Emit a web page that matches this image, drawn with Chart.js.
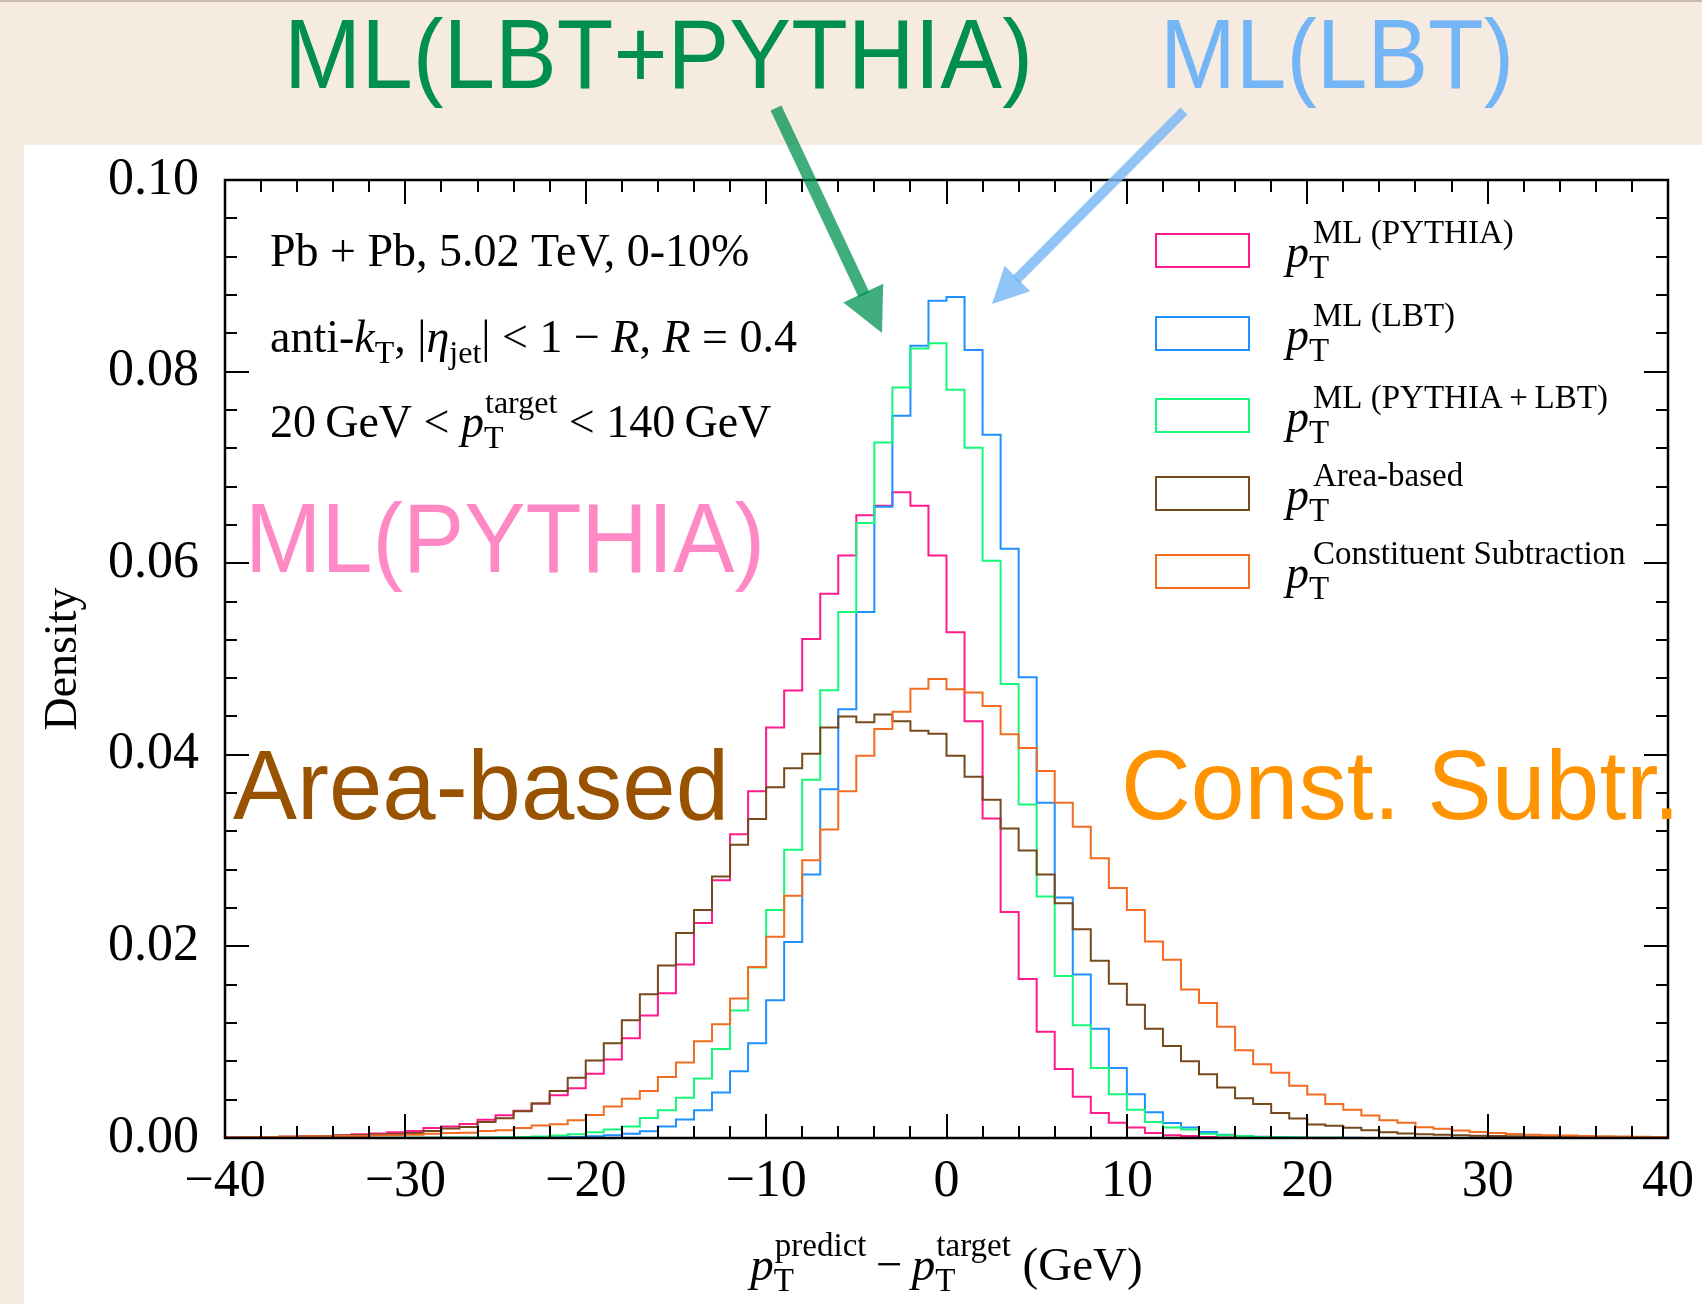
<!DOCTYPE html>
<html>
<head>
<meta charset="utf-8">
<title>Jet pT residual density</title>
<script src="https://cdn.jsdelivr.net/npm/chart.js@4.4.1/dist/chart.umd.min.js"></script>
<style>
  html, body { margin: 0; padding: 0; background: #f6ebe0; }
  #plot { display: block; }
</style>
</head>
<body>
<canvas id="plot" width="1702" height="1304"></canvas>
<script>
// --- data: 1 GeV bins from -40 to 40, density per bin ---
const binEdges = [
  -40, -39, -38, -37, -36, -35, -34, -33, -32, -31,
  -30, -29, -28, -27, -26, -25, -24, -23, -22, -21,
  -20, -19, -18, -17, -16, -15, -14, -13, -12, -11,
  -10, -9, -8, -7, -6, -5, -4, -3, -2, -1,
  0, 1, 2, 3, 4, 5, 6, 7, 8, 9,
  10, 11, 12, 13, 14, 15, 16, 17, 18, 19,
  20, 21, 22, 23, 24, 25, 26, 27, 28, 29,
  30, 31, 32, 33, 34, 35, 36, 37, 38, 39, 40
];

const mlPythia = [
  0.00005, 0.00007, 0.0001, 0.00013, 0.00017, 0.00022, 0.0003, 0.00038, 0.00048, 0.0006,
  0.00074, 0.00105, 0.0012, 0.00145, 0.0019, 0.00237, 0.00285, 0.0036, 0.00446, 0.0052,
  0.0067, 0.0082, 0.0104, 0.0128, 0.0151, 0.0181, 0.02245, 0.0269, 0.0317, 0.0362,
  0.04285, 0.0467, 0.0521, 0.0568, 0.0608, 0.065, 0.066, 0.0674, 0.066, 0.0608,
  0.0528, 0.0435, 0.03335, 0.0236, 0.0166, 0.0111, 0.0072, 0.0043, 0.0026, 0.0016,
  0.0011, 0.00052, 0.00028, 0.0002, 0.0001, 0.00006, 0.00004, 0.00003, 0.00002, 0.00001,
  0.00001, 0.00001, 0, 0, 0, 0, 0, 0, 0, 0,
  0, 0, 0, 0, 0, 0, 0, 0, 0, 0
];

const mlLbt = [
  0, 0, 0, 0, 0, 0, 0.00001, 0.00001, 0.00001, 0.00002,
  0.00002, 0.00002, 0.00003, 0.00003, 0.00004, 0.00005, 0.00006, 0.00007, 0.00008, 0.0001,
  0.00017, 0.00028, 0.00045, 0.0007, 0.0012, 0.00192, 0.0029, 0.00474, 0.00696, 0.0099,
  0.01438, 0.02047, 0.0275, 0.0364, 0.04476, 0.0549, 0.0659, 0.0754, 0.0827, 0.0874,
  0.0878, 0.08225, 0.0734, 0.0615, 0.0481, 0.035, 0.0251, 0.01706, 0.0114, 0.0073,
  0.00456, 0.0027, 0.00157, 0.0011, 0.00063, 0.00035, 0.0002, 0.00012, 0.00008, 0.00005,
  0.00003, 0.00002, 0.00002, 0.00001, 0.00001, 0, 0, 0, 0, 0,
  0, 0, 0, 0, 0, 0, 0, 0, 0, 0
];

const mlPythiaLbt = [
  0, 0, 0, 0, 0, 0.00001, 0.00001, 0.00001, 0.00002, 0.00002,
  0.00003, 0.00003, 0.00004, 0.00005, 0.00006, 0.00008, 0.0001, 0.00015, 0.00025, 0.0004,
  0.0006, 0.0009, 0.0012, 0.0021, 0.0029, 0.0042, 0.0062, 0.0093, 0.0133, 0.0178,
  0.0238, 0.0301, 0.0374, 0.04675, 0.0549, 0.0642, 0.0726, 0.07835, 0.0824, 0.08295,
  0.0781, 0.07205, 0.06025, 0.0474, 0.0348, 0.0252, 0.0169, 0.01177, 0.0073, 0.00456,
  0.00296, 0.00167, 0.0011, 0.0009, 0.00045, 0.00028, 0.0002, 0.0001, 0.00007, 0.00005,
  0.00003, 0.00002, 0.00001, 0.00001, 0, 0, 0, 0, 0, 0,
  0, 0, 0, 0, 0, 0, 0, 0, 0, 0
];

const areaBased = [
  0.00005, 0.00007, 0.00009, 0.00012, 0.00015, 0.0002, 0.00025, 0.0003, 0.00036, 0.00042,
  0.00052, 0.00073, 0.001, 0.00115, 0.00167, 0.00205, 0.0028, 0.0036, 0.0049, 0.0063,
  0.0081, 0.0099, 0.0123, 0.015, 0.018, 0.0214, 0.0238, 0.0273, 0.0306, 0.0333,
  0.0366, 0.0386, 0.0401, 0.04285, 0.044, 0.0434, 0.0442, 0.0435, 0.0425, 0.0422,
  0.0399, 0.0377, 0.0353, 0.0323, 0.03, 0.0275, 0.0245, 0.0218, 0.0185, 0.0161,
  0.0139, 0.0114, 0.0096, 0.008, 0.00665, 0.00526, 0.00415, 0.00355, 0.0026, 0.00203,
  0.00142, 0.00127, 0.00107, 0.0008, 0.0006, 0.00048, 0.00039, 0.00033, 0.00028, 0.00024,
  0.0002, 0.00018, 0.00015, 0.00013, 0.00011, 0.00009, 0.00007, 0.00006, 0.00005, 0.00004
];

const constSub = [
  0.00006, 0.00008, 0.0001, 0.00012, 0.00015, 0.00017, 0.0002, 0.00022, 0.00025, 0.0003,
  0.00035, 0.00045, 0.00052, 0.00055, 0.00073, 0.0008, 0.00105, 0.0013, 0.00143, 0.00185,
  0.0024, 0.0033, 0.0041, 0.0049, 0.00637, 0.00787, 0.0101, 0.01187, 0.01455, 0.01786,
  0.021, 0.0253, 0.029, 0.0322, 0.0362, 0.0399, 0.0427, 0.0445, 0.0469, 0.0479,
  0.04685, 0.0465, 0.0451, 0.04215, 0.0407, 0.0383, 0.035, 0.0325, 0.0292, 0.0261,
  0.0238, 0.0205, 0.0186, 0.0155, 0.0141, 0.0116, 0.00916, 0.0077, 0.0068, 0.00545,
  0.00455, 0.00355, 0.00296, 0.00235, 0.00185, 0.00158, 0.00112, 0.00097, 0.00077, 0.00062,
  0.00052, 0.00042, 0.00035, 0.00028, 0.00025, 0.0002, 0.00018, 0.00015, 0.00012, 0.0001
];

const seriesLabels = ['ML (PYTHIA)', 'ML (LBT)', 'ML (PYTHIA\u2009+\u2009LBT)', 'Area-based', 'Constituent Subtraction'];
const xTicks = [-40, -30, -20, -10, 0, 10, 20, 30, 40];
const yTicks = [0, 0.02, 0.04, 0.06, 0.08, 0.10];

// --- styling ---
const seriesColors = ['#ff1a8c', '#1e90ff', '#17f77a', '#774a1e', '#f26c22'];
const SERIF = '"Liberation Serif", "Times New Roman", serif';
const SANS = '"Liberation Sans", Arial, sans-serif';
const W = 1702, H = 1304;

// step outline for a histogram: rise at the first edge, drop at the last
function histPoints(values) {
  const pts = [{ x: binEdges[0], y: 0 }];
  values.forEach((v, i) => pts.push({ x: binEdges[i], y: v }));
  pts.push({ x: binEdges[binEdges.length - 1], y: 0 });
  return pts;
}

// draws text with italic runs and stacked sub/superscripts, returns end x
function richText(ctx, parts, x, y, size, draw, small) {
  small = small || Math.round(size * 0.7);
  for (let p of parts) {
    if (typeof p === 'string') p = { t: p };
    if (p.t !== undefined) {
      ctx.font = (p.i ? 'italic ' : '') + size + 'px ' + SERIF;
      if (draw) ctx.fillText(p.t, x, y);
      x += ctx.measureText(p.t).width;
    } else {
      ctx.font = small + 'px ' + SERIF;
      let w = 0;
      if (p.sub) {
        if (draw) ctx.fillText(p.sub, x, y + size * 0.24);
        w = ctx.measureText(p.sub).width;
      }
      if (p.sup) {
        const dx = p.dx || 1;
        if (draw) ctx.fillText(p.sup, x + dx, y - size * 0.52);
        w = Math.max(w, ctx.measureText(p.sup).width + dx);
      }
      x += w;
    }
  }
  return x;
}

function arrow(ctx, x0, y0, x1, y1, color, width, headLen, headHalf) {
  const len = Math.hypot(x1 - x0, y1 - y0);
  const ux = (x1 - x0) / len, uy = (y1 - y0) / len;
  const bx = x1 - ux * headLen, by = y1 - uy * headLen;
  ctx.save();
  ctx.strokeStyle = color;
  ctx.fillStyle = color;
  ctx.lineWidth = width;
  ctx.beginPath();
  ctx.moveTo(x0, y0);
  ctx.lineTo(bx + ux * 2, by + uy * 2);
  ctx.stroke();
  ctx.beginPath();
  ctx.moveTo(x1, y1);
  ctx.lineTo(bx - uy * headHalf, by + ux * headHalf);
  ctx.lineTo(bx + uy * headHalf, by - ux * headHalf);
  ctx.closePath();
  ctx.fill();
  ctx.restore();
}

const infoLines = [
  ['Pb + Pb, 5.02 TeV, 0-10%'],
  ['anti-', { t: 'k', i: true }, { sub: 'T' }, ', |', { t: '\u03b7', i: true }, { sub: 'jet' },
   '| < 1 \u2212 ', { t: 'R', i: true }, ', ', { t: 'R', i: true }, ' = 0.4'],
  ['20\u2009GeV < ', { t: 'p', i: true }, { sub: 'T', sup: 'target' }, ' < 140\u2009GeV']
];

const xTitle = [{ t: 'p', i: true }, { sub: 'T', sup: 'predict' }, '\u2009\u2212\u2009',
                { t: 'p', i: true }, { sub: 'T', sup: 'target' }, ' (GeV)'];

const legendTops = [234, 317, 399, 477, 555];

// big slide labels
const notes = [
  { text: 'ML(LBT+PYTHIA)', x: 284, y: 88, w: 749, color: '#008f4f' },
  { text: 'ML(LBT)', x: 1160, y: 88, w: 354, color: '#74b5f5' },
  { text: 'ML(PYTHIA)', x: 245, y: 572, w: 520, color: '#ff89c4' },
  { text: 'Area-based', x: 233, y: 819, w: 496, color: '#985200' },
  { text: 'Const. Subtr.', x: 1121, y: 819, w: 559, color: '#ff9400' }
];

const decorPlugin = {
  id: 'decor',
  beforeDraw(chart) {
    const ctx = chart.ctx;
    ctx.save();
    ctx.fillStyle = '#f6ebe0';
    ctx.fillRect(0, 0, W, H);
    ctx.fillStyle = '#cbbcad';
    ctx.fillRect(0, 0, W, 2);
    ctx.fillStyle = '#ffffff';
    ctx.fillRect(24, 145, W - 24, H - 145);
    ctx.restore();
  },
  afterDatasetsDraw(chart) {
    const ctx = chart.ctx;
    const { left, right, top, bottom } = chart.chartArea;
    const xs = chart.scales.x, ys = chart.scales.y;
    ctx.save();
    ctx.strokeStyle = '#000';
    ctx.lineWidth = 2;
    ctx.beginPath();
    // inward ticks, minor every 2 GeV, major every 10 GeV
    for (let v = -40; v <= 40; v += 2) {
      const px = Math.round(xs.getPixelForValue(v));
      const len = v % 10 === 0 ? 24 : 12;
      ctx.moveTo(px, bottom); ctx.lineTo(px, bottom - len);
      ctx.moveTo(px, top); ctx.lineTo(px, top + len);
    }
    // minor every 0.004, major every 0.02
    for (let k = 0; k <= 25; k++) {
      const py = Math.round(ys.getPixelForValue(k * 0.004));
      const len = k % 5 === 0 ? 24 : 12;
      ctx.moveTo(left, py); ctx.lineTo(left + len, py);
      ctx.moveTo(right, py); ctx.lineTo(right - len, py);
    }
    ctx.stroke();
    ctx.lineWidth = 2.5;
    ctx.strokeRect(left, top, right - left, bottom - top);
    ctx.restore();
  },
  afterDraw(chart) {
    const ctx = chart.ctx;
    const { left, right, top, bottom } = chart.chartArea;
    ctx.save();
    ctx.textBaseline = 'alphabetic';
    ctx.textAlign = 'left';
    ctx.fillStyle = '#000';

    // run info
    const baselines = [266, 352, 437];
    infoLines.forEach((line, i) => richText(ctx, line, 270, baselines[i], 46, true));

    // legend: open boxes with the series colours
    chart.data.datasets.forEach((ds, i) => {
      const y0 = legendTops[i];
      ctx.strokeStyle = ds.borderColor;
      ctx.lineWidth = 2;
      ctx.strokeRect(1156, y0, 93, 33);
      ctx.fillStyle = '#000';
      richText(ctx, [{ t: 'p', i: true }, { sub: 'T', sup: seriesLabels[i], dx: 4 }], 1286, y0 + 33, 46, true, 33);
    });

    // axis titles
    const tw = richText(ctx, xTitle, 0, 0, 47, false, 33);
    richText(ctx, xTitle, (left + right) / 2 - tw / 2, 1280, 47, true, 33);
    ctx.save();
    ctx.translate(76, (top + bottom) / 2);
    ctx.rotate(-Math.PI / 2);
    ctx.textAlign = 'center';
    ctx.font = '46px ' + SERIF;
    ctx.fillText('Density', 0, 0);
    ctx.restore();

    // large coloured labels
    notes.forEach(n => {
      ctx.font = '99px ' + SANS;
      const sx = n.w / ctx.measureText(n.text).width;
      ctx.save();
      ctx.translate(n.x, n.y);
      ctx.scale(sx, 1);
      ctx.fillStyle = n.color;
      ctx.fillText(n.text, 0, 0);
      ctx.restore();
    });

    arrow(ctx, 776, 108, 882, 333, 'rgba(0, 145, 80, 0.75)', 12, 44, 22);
    arrow(ctx, 1184, 111, 992, 304, 'rgba(117, 181, 245, 0.8)', 10, 36, 18);
    ctx.restore();
  }
};

const allSeries = [mlPythia, mlLbt, mlPythiaLbt, areaBased, constSub];

new Chart(document.getElementById('plot'), {
  type: 'line',
  data: {
    datasets: allSeries.map((vals, i) => ({
      label: seriesLabels[i],
      data: histPoints(vals),
      borderColor: seriesColors[i],
      borderWidth: 2,
      stepped: true,
      fill: false,
      pointRadius: 0,
      order: allSeries.length - 1 - i
    }))
  },
  options: {
    responsive: false,
    animation: false,
    events: [],
    layout: { padding: { top: 180, right: 34, left: 0, bottom: 0 } },
    plugins: { legend: { display: false }, tooltip: { enabled: false } },
    scales: {
      x: {
        type: 'linear',
        min: -40,
        max: 40,
        grid: { display: false, drawTicks: false },
        border: { display: false },
        afterBuildTicks: s => { s.ticks = xTicks.map(v => ({ value: v })); },
        // fixed axis band; end labels may overhang the plot edges
        afterFit: s => { s.height = 166; s.paddingLeft = 0; s.paddingRight = 0; },
        ticks: {
          autoSkip: false,
          maxRotation: 0,
          padding: 18,
          color: '#000',
          font: { family: SERIF, size: 52, lineHeight: 1 },
          callback: v => (v < 0 ? '\u2212' + (-v) : String(v))
        }
      },
      y: {
        type: 'linear',
        min: 0,
        max: 0.1,
        grid: { display: false, drawTicks: false },
        border: { display: false },
        afterBuildTicks: s => { s.ticks = yTicks.map(v => ({ value: v })); },
        afterFit: s => { s.width = 225; s.paddingTop = 0; s.paddingBottom = 0; },
        ticks: {
          padding: 26,
          color: '#000',
          font: { family: SERIF, size: 52, lineHeight: 1 },
          callback: v => v.toFixed(2)
        }
      }
    }
  },
  plugins: [decorPlugin]
});
</script>
</body>
</html>
